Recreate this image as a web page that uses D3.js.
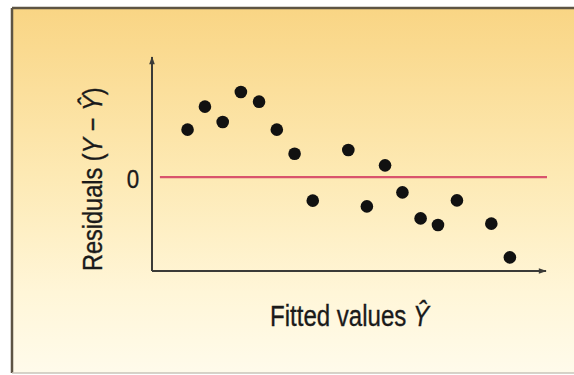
<!DOCTYPE html>
<html>
<head>
<meta charset="utf-8">
<script src="https://cdn.jsdelivr.net/npm/d3@7/dist/d3.min.js"></script>
<style>
  html, body { margin: 0; padding: 0; background: #fff; }
  svg { display: block; }
  text { font-family: "Liberation Sans", Arial, Helvetica, sans-serif; fill: #1a1a1a; stroke: #1a1a1a; stroke-width: 0.35px; }
</style>
</head>
<body>
<div id="chart"></div>
<script>
// Residuals plotted against fitted values (arbitrary units)
const fitted    = [0.90, 1.34, 1.79, 2.25, 2.71, 3.16, 3.61, 4.07, 4.97, 5.44, 5.90, 6.34, 6.80, 7.24, 7.72, 8.59, 9.06];
const residuals = [0.505, 0.75, 0.587, 0.906, 0.803, 0.505, 0.249, -0.251, 0.289, -0.312, 0.125, -0.163, -0.44, -0.51, -0.248, -0.496, -0.855];
const yTicks = [0];
const xTitle = "Fitted values";
const yTitle = "Residuals (";
const hatY = "Ŷ";

const W = 574, H = 375;
const svg = d3.select("#chart").append("svg").attr("width", W).attr("height", H);

// background panel with warm vertical gradient
const defs = svg.append("defs");
const grad = defs.append("linearGradient").attr("id", "bg").attr("x1", 0).attr("y1", 0).attr("x2", 0).attr("y2", 1);
[[0, "#f9d584"], [0.45, "#fde9b3"], [0.78, "#fff6d8"], [1, "#fffbeb"]].forEach(([o, c]) =>
  grad.append("stop").attr("offset", o).attr("stop-color", c));

const panel = { x0: 12, y0: 8, x1: W + 2, y1: 373 };
svg.append("rect").attr("x", panel.x0).attr("y", panel.y0)
  .attr("width", panel.x1 - panel.x0).attr("height", panel.y1 - panel.y0)
  .attr("fill", "url(#bg)");
svg.append("line").attr("x1", panel.x0).attr("x2", W).attr("y1", panel.y0).attr("y2", panel.y0)
  .attr("stroke", "#5d5444").attr("stroke-width", 2.5);
svg.append("line").attr("x1", panel.x0).attr("x2", panel.x0).attr("y1", panel.y0).attr("y2", panel.y1)
  .attr("stroke", "#5d5444").attr("stroke-width", 2.5);
svg.append("line").attr("x1", panel.x0).attr("x2", W).attr("y1", panel.y1).attr("y2", panel.y1)
  .attr("stroke", "#c9c5ba").attr("stroke-width", 1.5);

// scales
const x = d3.scaleLinear().domain([0, 10]).range([152, 547]);
const y = d3.scaleLinear().domain([-1, 1.3]).range([271, 55]);

// arrow marker for axes
defs.append("marker").attr("id", "arrow").attr("viewBox", "0 0 10 10")
  .attr("refX", 9).attr("refY", 5).attr("markerWidth", 5).attr("markerHeight", 4)
  .attr("markerUnits", "strokeWidth").attr("orient", "auto")
  .append("path").attr("d", "M0,1.5 L10,5 L0,8.5 Z").attr("fill", "#3b3b37");

const axisColor = "#3b3b37";
svg.append("line").attr("x1", x(0)).attr("x2", x(0)).attr("y1", y(-1)).attr("y2", y(1.3) + 2)
  .attr("stroke", axisColor).attr("stroke-width", 2).attr("marker-end", "url(#arrow)");
svg.append("line").attr("x1", x(0)).attr("x2", x(10) - 1).attr("y1", y(-1)).attr("y2", y(-1))
  .attr("stroke", axisColor).attr("stroke-width", 2).attr("marker-end", "url(#arrow)");

// zero reference line
svg.selectAll(".zero").data(yTicks).join("line").attr("class", "zero")
  .attr("x1", x(0.2)).attr("x2", x(10)).attr("y1", d => y(d)).attr("y2", d => y(d))
  .attr("stroke", "#d9536c").attr("stroke-width", 2.2);

svg.selectAll(".ytick").data(yTicks).join("text").attr("class", "ytick")
  .attr("transform", d => `translate(133,${y(d) + 10.5}) scale(0.86,1)`)
  .attr("text-anchor", "middle").attr("font-size", 26).text(d => d);

// residual points
svg.selectAll(".pt").data(fitted.map((f, i) => [f, residuals[i]])).join("circle").attr("class", "pt")
  .attr("cx", d => x(d[0])).attr("cy", d => y(d[1])).attr("r", 6.3).attr("fill", "#111");

// axis titles
const xt = svg.append("text").attr("transform", "translate(270,326) scale(0.83,1)").attr("font-size", 29);
xt.append("tspan").text(xTitle + " ");
xt.append("tspan").attr("font-style", "italic").text(hatY);

const yt = svg.append("text").attr("transform", "translate(102,271) rotate(-90) scale(0.84,1)").attr("font-size", 28);
yt.append("tspan").text(yTitle);
yt.append("tspan").attr("font-style", "italic").text("Y");
yt.append("tspan").text(" − ");
yt.append("tspan").attr("font-style", "italic").text(hatY);
yt.append("tspan").text(")");
</script>
</body>
</html>
